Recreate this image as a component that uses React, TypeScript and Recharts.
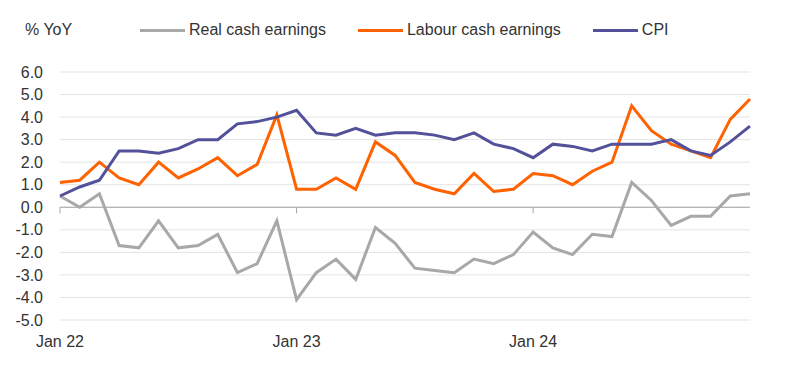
import { LineChart, Line, XAxis, YAxis, CartesianGrid, ReferenceLine } from 'recharts';

const months = [
  'Jan 22', 'Feb 22', 'Mar 22', 'Apr 22', 'May 22', 'Jun 22', 'Jul 22', 'Aug 22', 'Sep 22', 'Oct 22', 'Nov 22', 'Dec 22',
  'Jan 23', 'Feb 23', 'Mar 23', 'Apr 23', 'May 23', 'Jun 23', 'Jul 23', 'Aug 23', 'Sep 23', 'Oct 23', 'Nov 23', 'Dec 23',
  'Jan 24', 'Feb 24', 'Mar 24', 'Apr 24', 'May 24', 'Jun 24', 'Jul 24', 'Aug 24', 'Sep 24', 'Oct 24', 'Nov 24', 'Dec 24',
];

const realCashEarnings = [
  0.5, 0.0, 0.6, -1.7, -1.8, -0.6, -1.8, -1.7, -1.2, -2.9, -2.5, -0.6,
  -4.1, -2.9, -2.3, -3.2, -0.9, -1.6, -2.7, -2.8, -2.9, -2.3, -2.5, -2.1,
  -1.1, -1.8, -2.1, -1.2, -1.3, 1.1, 0.3, -0.8, -0.4, -0.4, 0.5, 0.6,
];

const labourCashEarnings = [
  1.1, 1.2, 2.0, 1.3, 1.0, 2.0, 1.3, 1.7, 2.2, 1.4, 1.9, 4.1,
  0.8, 0.8, 1.3, 0.8, 2.9, 2.3, 1.1, 0.8, 0.6, 1.5, 0.7, 0.8,
  1.5, 1.4, 1.0, 1.6, 2.0, 4.5, 3.4, 2.8, 2.5, 2.2, 3.9, 4.8,
];

const cpi = [
  0.5, 0.9, 1.2, 2.5, 2.5, 2.4, 2.6, 3.0, 3.0, 3.7, 3.8, 4.0,
  4.3, 3.3, 3.2, 3.5, 3.2, 3.3, 3.3, 3.2, 3.0, 3.3, 2.8, 2.6,
  2.2, 2.8, 2.7, 2.5, 2.8, 2.8, 2.8, 3.0, 2.5, 2.3, 2.9, 3.6,
];

const yTicks = [-5, -4, -3, -2, -1, 0, 1, 2, 3, 4, 5, 6];
const xTicks = ['Jan 22', 'Jan 23', 'Jan 24'];

const GRAY = '#a8a8a8';
const ORANGE = '#ff6200';
const PURPLE = '#525199';
const TEXT = '#333333';
const FONT = '"Liberation Sans", Arial, sans-serif';

const legendItems = [
  { name: 'Real cash earnings', color: GRAY },
  { name: 'Labour cash earnings', color: ORANGE },
  { name: 'CPI', color: PURPLE },
];

const data = months.map((month, i) => ({
  month,
  real: realCashEarnings[i],
  labour: labourCashEarnings[i],
  cpi: cpi[i],
}));

export default function App() {
  return (
    <div style={{ position: 'absolute', left: 0, top: 0, width: 800, height: 368, background: '#fff', fontFamily: FONT }}>
      <div
        style={{
          position: 'absolute',
          top: 19,
          left: 25,
          display: 'flex',
          alignItems: 'center',
          fontSize: 16,
          color: TEXT,
          lineHeight: '22px',
        }}
      >
        <span style={{ width: 115 }}>% YoY</span>
        {legendItems.map((item) => (
          <span key={item.name} style={{ display: 'flex', alignItems: 'center', marginRight: 32 }}>
            <span style={{ display: 'inline-block', width: 45, height: 3, background: item.color, marginRight: 4 }} />
            <span>{item.name}</span>
          </span>
        ))}
      </div>
      <LineChart width={800} height={368} data={data} margin={{ top: 72, right: 50, bottom: 18, left: 0 }}>
        <CartesianGrid vertical={false} stroke="#e3e3e3" />
        <XAxis
          dataKey="month"
          ticks={xTicks}
          interval={0}
          axisLine={false}
          tickLine={false}
          tickSize={0}
          tickMargin={16}
          height={30}
          tick={{ fill: TEXT, fontSize: 16, fontFamily: FONT }}
        />
        <YAxis
          domain={[-5, 6]}
          ticks={yTicks}
          interval={0}
          width={60}
          axisLine={false}
          tickLine={false}
          tickSize={0}
          tickMargin={17}
          tickFormatter={(v: number) => v.toFixed(1)}
          tick={{ fill: TEXT, fontSize: 16, fontFamily: FONT }}
        />
        <ReferenceLine y={0} stroke="#a6a6a6" strokeWidth={1} />
        {xTicks.map((t) => (
          <ReferenceLine
            key={t}
            segment={[
              { x: t, y: 0 },
              { x: t, y: -0.27 },
            ]}
            stroke="#a6a6a6"
          />
        ))}
        <Line type="linear" dataKey="real" stroke={GRAY} strokeWidth={3} dot={false} isAnimationActive={false} />
        <Line type="linear" dataKey="labour" stroke={ORANGE} strokeWidth={3} dot={false} isAnimationActive={false} />
        <Line type="linear" dataKey="cpi" stroke={PURPLE} strokeWidth={3} dot={false} isAnimationActive={false} />
      </LineChart>
    </div>
  );
}
